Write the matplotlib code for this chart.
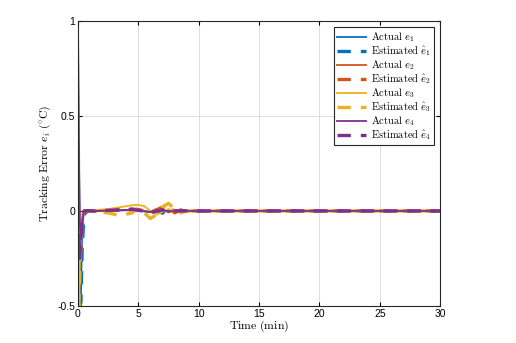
import numpy as np
import matplotlib.pyplot as plt

plt.rcParams['mathtext.fontset'] = 'cm'
plt.rcParams['font.family'] = ['Liberation Sans', 'DejaVu Sans']

# ── data ─────────────────────────────────────────────
t = [0, 0.08, 0.15, 0.25, 0.35, 0.5, 0.8, 1.5, 2.5, 3.5, 4.5, 5.0, 5.5, 6.0, 6.5, 7.0, 7.5, 8.0, 8.5, 9.0, 10, 15, 20, 25, 30]

e1     = [1.0, 0.5, -0.2, -0.45, -0.1, 0.0, 0.005, 0.0, 0.002, 0.004, 0.005, 0.003, -0.002, -0.005, 0.0, -0.01, 0.005, 0.0, -0.002, 0.0, 0.0, 0.0, 0.0, 0.0, 0.0]
e1_hat = [0.0, -0.3, -0.5, -0.48, -0.2, -0.02, 0.0, 0.0, 0.002, 0.005, 0.008, 0.005, 0.0, -0.008, 0.005, -0.012, 0.008, 0.0, 0.002, 0.0, 0.0, 0.0, 0.0, 0.0, 0.0]
e2     = [0.5, 0.2, -0.1, -0.15, -0.05, 0.0, 0.005, 0.0, 0.002, 0.004, 0.006, 0.004, 0.0, -0.006, 0.003, 0.01, -0.008, 0.004, 0.0, 0.0, 0.0, 0.0, 0.0, 0.0, 0.0]
e2_hat = [0.0, -0.15, -0.25, -0.2, -0.08, -0.01, 0.0, 0.0, 0.003, 0.006, 0.01, 0.006, 0.0, -0.01, 0.006, 0.02, 0.035, -0.01, 0.005, 0.0, 0.0, 0.0, 0.0, 0.0, 0.0]
e3     = [0.0, -0.45, -0.3, -0.1, -0.02, 0.0, 0.005, 0.005, 0.01, 0.02, 0.03, 0.032, 0.025, 0.0, -0.02, -0.005, 0.01, 0.0, -0.005, 0.0, 0.0, 0.0, 0.0, 0.0, 0.0]
e3_hat = [0.0, -0.5, -0.35, -0.12, -0.03, 0.0, 0.0, -0.005, -0.01, -0.025, -0.01, 0.02, -0.01, -0.04, -0.02, 0.02, 0.04, 0.01, -0.01, 0.0, 0.0, 0.0, 0.0, 0.0, 0.0]
e4     = [0.4, 0.3, -0.05, -0.15, -0.05, 0.0, 0.005, 0.0, 0.002, 0.004, 0.005, 0.003, -0.002, -0.005, -0.003, 0.005, -0.003, 0.0, 0.0, 0.0, 0.0, 0.0, 0.0, 0.0, 0.0]
e4_hat = [0.0, -0.1, -0.25, -0.15, -0.04, 0.0, 0.0, 0.0, 0.003, 0.006, 0.008, 0.004, -0.003, -0.008, -0.002, 0.006, -0.004, 0.0, 0.0, 0.0, 0.0, 0.0, 0.0, 0.0, 0.0]

colors = ['#0072BD', '#D95319', '#EDB120', '#7E2F8E']
actual = [e1, e2, e3, e4]
estimated = [e1_hat, e2_hat, e3_hat, e4_hat]

x_ticks = [0, 5, 10, 15, 20, 25, 30]
y_ticks = [-0.5, 0, 0.5, 1]
y_tick_labels = ['-0.5', '0', '0.5', '1']

# ── figure ──────────────────────────────────────────
fig = plt.figure(figsize=(5.16, 3.43), dpi=100)
ax = fig.add_axes([0.151, 0.108, 0.702, 0.831])

for i in range(4):
    ax.plot(t, actual[i], '-', color=colors[i], lw=1.3,
            label=r'$\mathrm{Actual}\ e_%d$' % (i+1))
    ax.plot(t, estimated[i], '--', color=colors[i], lw=2.4, dashes=(4, 3),
            label=r'$\mathrm{Estimated}\ \hat{e}_%d$' % (i+1))

ax.set_xlim(0, 30)
ax.set_ylim(-0.5, 1)
ax.set_xticks(x_ticks)
ax.set_yticks(y_ticks)
ax.set_yticklabels(y_tick_labels)
ax.tick_params(direction='in', labelsize=7.5, length=3, top=True, right=True, pad=2)
ax.grid(color='#dddddd', lw=0.7)
for s in ax.spines.values():
    s.set_color('#262626'); s.set_linewidth(0.8)

ax.set_xlabel(r'$\mathrm{Time\ (min)}$', fontsize=8.5, labelpad=0)
ax.set_ylabel(r'$\mathrm{Tracking\ Error}\ e_i\ (^{\circ}\mathrm{C})$', fontsize=8.5, labelpad=3)

leg = ax.legend(loc='upper right', fontsize=7.5, fancybox=False, framealpha=1,
                edgecolor='#262626', handlelength=2.8, labelspacing=0.02,
                borderpad=0.3, handletextpad=0.4, borderaxespad=0.6)
leg.get_frame().set_linewidth(0.8)

fig.savefig('out.png', dpi=100)
